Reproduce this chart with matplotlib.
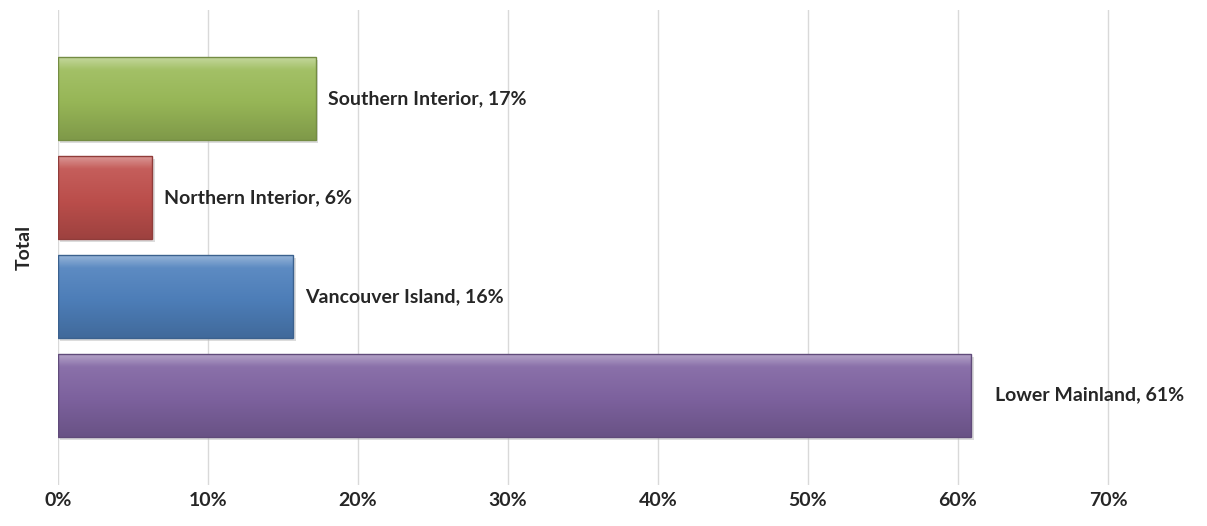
import matplotlib.pyplot as plt
import numpy as np
from matplotlib.colors import LinearSegmentedColormap, to_rgb
from matplotlib.patches import Rectangle

regions = ['Lower Mainland', 'Vancouver Island', 'Northern Interior', 'Southern Interior']
share = [60.9, 15.7, 6.3, 17.2]   # percent
pct_labels = ['61%', '16%', '6%', '17%']
ticks = [0, 10, 20, 30, 40, 50, 60, 70]

colors = ['#8064A2', '#4F81BD', '#C0504D', '#9BBB59']
label_pad = [1.6, 0.8, 0.8, 0.8]  # in percent units

plt.rcParams['font.family'] = ['Lato', 'DejaVu Sans']

fig = plt.figure(figsize=(12.07, 5.26), dpi=100)
ax = fig.add_axes([0.048, 0.078, 0.952, 0.903])

bar_h = 0.84
ypos = np.arange(len(regions))


def shade(c, f):
    r, g, b = to_rgb(c)
    if f > 1:
        return tuple(x + (1 - x) * (f - 1) for x in (r, g, b))
    return tuple(x * f for x in (r, g, b))


for i, (v, c) in enumerate(zip(share, colors)):
    y0 = ypos[i] - bar_h / 2
    # soft shadow
    ax.add_patch(Rectangle((0.15, y0 - 0.03), v, bar_h, color='#bbbbbb', alpha=0.5, zorder=2, lw=0))
    cmap = LinearSegmentedColormap.from_list(
        'g', [(0, shade(c, 0.82)), (0.45, shade(c, 0.97)), (0.85, shade(c, 1.08)), (1, shade(c, 1.4))])
    ax.imshow(np.linspace(0, 1, 100).reshape(-1, 1), cmap=cmap, aspect='auto', origin='lower',
              extent=(0, v, y0, y0 + bar_h), zorder=3, interpolation='bicubic')
    ax.add_patch(Rectangle((0, y0), v, bar_h, fill=False, ec=shade(c, 0.75), lw=1.0, zorder=4))
    ax.text(v + label_pad[i], ypos[i], f'{regions[i]}, {pct_labels[i]}', va='center', ha='left',
            fontsize=14, fontweight='bold', color='#262626', zorder=5)

ax.set_xlim(0, 76.6)
ax.set_ylim(-0.91, 3.9)
ax.set_xticks(ticks)
ax.set_xticklabels([f'{t}%' for t in ticks], fontsize=14, fontweight='bold', color='#262626')
ax.set_yticks([])
ax.set_ylabel('Total', fontsize=14, fontweight='bold', color='#262626', labelpad=18)
ax.grid(axis='x', color='#d9d9d9', lw=1, zorder=0)
ax.set_axisbelow(True)
ax.tick_params(axis='x', length=0, pad=5)
for s in ax.spines.values():
    s.set_visible(False)

fig.savefig('out.png', dpi=100)
